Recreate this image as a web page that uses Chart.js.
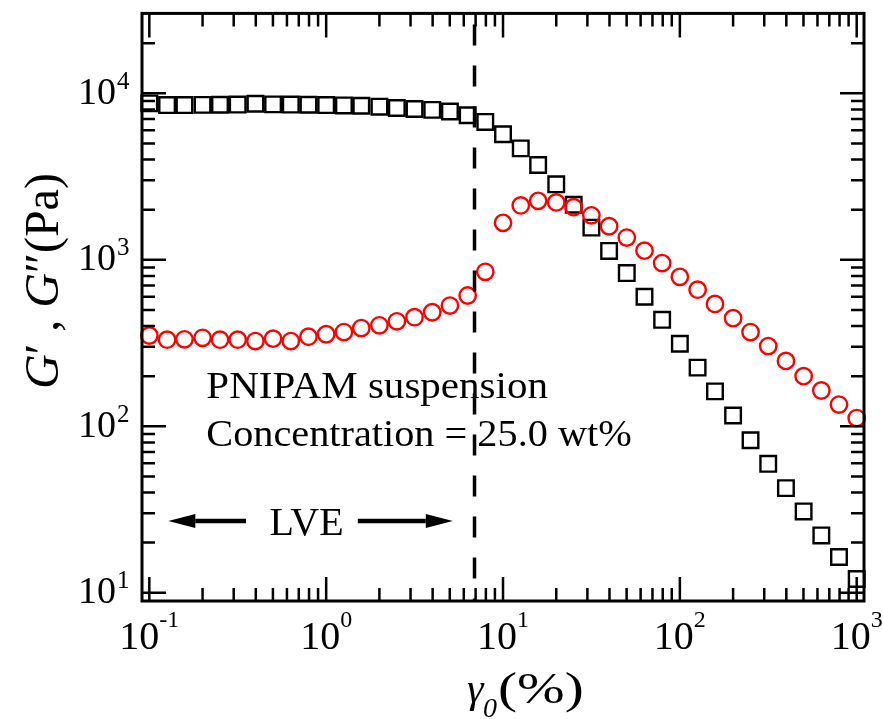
<!DOCTYPE html>
<html>
<head>
<meta charset="utf-8">
<title>PNIPAM strain sweep</title>
<script src="https://cdn.jsdelivr.net/npm/chart.js@4.4.1/dist/chart.umd.min.js"></script>
<style>
  html, body { margin: 0; padding: 0; background: #fff; }
  #wrap { width: 883px; height: 719px; position: relative; }
</style>
</head>
<body>
<div id="wrap"><canvas id="sweepChart"></canvas></div>
<script>
// Strain amplitude sweep, gamma0 in %
const strain = [
    0.1, 0.126, 0.158, 0.2, 0.251, 0.316, 0.398, 0.501, 0.631, 0.794,
    1, 1.26, 1.58, 2, 2.51, 3.16, 3.98, 5.01, 6.31, 7.94,
    10, 12.6, 15.8, 20, 25.1, 31.6, 39.8, 50.1, 63.1, 79.4,
    100, 126, 158, 200, 251, 316, 398, 501, 631, 794,
    1000
];

// Storage modulus G' (Pa)
const storageModulus = [
    8700, 8500, 8500, 8520, 8540, 8560, 8650, 8580, 8560, 8540,
    8500, 8460, 8420, 8310, 8160, 8050, 7950, 7780, 7380, 6730,
    5680, 4670, 3710, 2840, 2140, 1560, 1130, 832, 600, 436,
    313, 225, 162, 116, 82.4, 59.5, 42.5, 30.8, 22.1, 16.4,
    12.1
];

// Loss modulus G'' (Pa)
const lossModulus = [
    351, 331, 333, 340, 331, 331, 325, 336, 325, 345,
    357, 368, 389, 404, 427, 452, 484, 531, 610, 847,
    1667, 2120, 2260, 2210, 2070, 1850, 1590, 1360, 1135, 955,
    790, 661, 543, 446, 368, 303, 247, 200, 164, 135,
    112
];

// End of the linear viscoelastic region
const lveLimit = 6.9;

// Tick labels, drawn as 10 with the power as superscript
const xTicks = [0.1, 1, 10, 100, 1000];
const xTickPowers = ['-1', '0', '1', '2', '3'];
const yTicks = [10, 100, 1000, 10000];
const yTickPowers = ['1', '2', '3', '4'];

const SERIF = '"Liberation Serif", "Times New Roman", Times, serif';

function setFont(ctx, size, italic) {
    ctx.font = (italic ? 'italic ' : '') + size + 'px ' + SERIF;
}

function textWidth(ctx, str, size, italic) {
    setFont(ctx, size, italic);
    return ctx.measureText(str).width;
}

function putText(ctx, str, x, y, size, opt = {}) {
    ctx.save();
    ctx.translate(x, y);
    if (opt.rotate) ctx.rotate(opt.rotate);
    ctx.scale(opt.sx || 1, opt.sy || 1);
    setFont(ctx, size, opt.italic);
    ctx.textAlign = opt.align || 'left';
    ctx.textBaseline = 'alphabetic';
    ctx.fillStyle = '#000';
    ctx.fillText(str, 0, 0);
    ctx.restore();
}

// 1..9 x 10^k positions inside [min, max]
function logTicks(min, max) {
    const out = [];
    for (let k = Math.floor(Math.log10(min)); k <= Math.ceil(Math.log10(max)); k++) {
        for (let m = 1; m <= 9; m++) {
            const v = m * Math.pow(10, k);
            if (v > min * 1.01 && v < max / 1.01) out.push({ v, major: m === 1 });
        }
    }
    return out;
}

function arrow(ctx, x0, x1, y, head) {
    const dir = Math.sign(x1 - x0);
    const base = x1 - dir * head;
    ctx.beginPath();
    ctx.lineWidth = 4.5;
    ctx.moveTo(x0, y);
    ctx.lineTo(base, y);
    ctx.stroke();
    ctx.beginPath();
    ctx.moveTo(x1, y);
    ctx.lineTo(base, y - 7);
    ctx.lineTo(base, y + 7);
    ctx.closePath();
    ctx.fill();
}

// Boxed frame with inward ticks, tick labels, axis titles and notes
const framePlugin = {
    id: 'frame',
    afterDatasetsDraw(chart) {
        const { ctx, chartArea: a, scales: { x, y } } = chart;
        ctx.save();
        ctx.strokeStyle = '#000';
        ctx.fillStyle = '#000';

        ctx.lineWidth = 2.5;
        ctx.beginPath();
        logTicks(x.min, x.max).forEach(t => {
            const px = x.getPixelForValue(t.v);
            const len = t.major ? 24 : 13;
            ctx.moveTo(px, a.bottom); ctx.lineTo(px, a.bottom - len);
            ctx.moveTo(px, a.top); ctx.lineTo(px, a.top + len);
        });
        logTicks(y.min, y.max).forEach(t => {
            const py = y.getPixelForValue(t.v);
            const len = t.major ? 24 : 13;
            ctx.moveTo(a.left, py); ctx.lineTo(a.left + len, py);
            ctx.moveTo(a.right, py); ctx.lineTo(a.right - len, py);
        });
        ctx.stroke();

        ctx.lineWidth = 3;
        ctx.strokeRect(a.left, a.top, a.right - a.left, a.bottom - a.top);

        // x tick labels
        xTicks.forEach((v, i) => {
            const px = x.getPixelForValue(v);
            const w1 = textWidth(ctx, '10', 40);
            const w2 = textWidth(ctx, xTickPowers[i], 24);
            const x0 = px - (w1 + w2) / 2;
            putText(ctx, '10', x0, a.bottom + 47.5, 40);
            putText(ctx, xTickPowers[i], x0 + w1, a.bottom + 26, 24);
        });

        // y tick labels
        yTicks.forEach((v, i) => {
            const py = y.getPixelForValue(v);
            putText(ctx, '10', a.left - 26, py + 10.5, 38, { align: 'right' });
            putText(ctx, yTickPowers[i], a.left - 25, py - 4.5, 25);
        });

        // x title: gamma_0 (%)
        putText(ctx, 'γ', 467, 702, 42, { italic: true });
        putText(ctx, '0', 483, 717, 28, { italic: true });
        putText(ctx, '(%)', 498, 703, 44, { sx: 1.3 });

        // y title: G', G''(Pa), reading upward
        const parts = [
            ['G', true], ['′', false], [' , ', false],
            ['G', true], ['″', false], ['(Pa)', false]
        ];
        const ys = 48;
        const total = parts.reduce((s, p) => s + textWidth(ctx, p[0], ys, p[1]), 0);
        ctx.save();
        ctx.translate(58, 281);
        ctx.rotate(-Math.PI / 2);
        let cx = -total / 2;
        parts.forEach(p => {
            putText(ctx, p[0], cx, 0, ys, { italic: p[1] });
            cx += textWidth(ctx, p[0], ys, p[1]);
        });
        ctx.restore();

        // sample description
        putText(ctx, 'PNIPAM suspension', x.getPixelForValue(0.21), y.getPixelForValue(147), 38, { sx: 1.08 });
        putText(ctx, 'Concentration = 25.0 wt%', x.getPixelForValue(0.21), y.getPixelForValue(76), 38, { sx: 1.06 });

        // LVE range marker
        const ay = y.getPixelForValue(27);
        arrow(ctx, x.getPixelForValue(0.352), x.getPixelForValue(0.128), ay, 27);
        arrow(ctx, x.getPixelForValue(1.51), x.getPixelForValue(5.2), ay, 27);
        putText(ctx, 'LVE', x.getPixelForValue(0.775), y.getPixelForValue(22.1), 40, { align: 'center' });

        ctx.restore();
    }
};

const ctx = document.getElementById('sweepChart').getContext('2d');
new Chart(ctx, {
    type: 'scatter',
    data: {
        datasets: [
            {
                label: 'LVE limit',
                type: 'line',
                data: [{ x: lveLimit, y: 25900 }, { x: lveLimit, y: 8.92 }],
                borderColor: '#000',
                borderWidth: 3.5,
                borderDash: [21, 20],
                pointRadius: 0,
                order: 0,
                clip: false
            },
            {
                label: "G''",
                data: strain.map((s, i) => ({ x: s, y: lossModulus[i] })),
                pointStyle: 'circle',
                pointRadius: 8.2,
                borderWidth: 2.4,
                borderColor: '#ff0000',
                backgroundColor: 'rgba(0,0,0,0)',
                order: 1,
                clip: false
            },
            {
                label: "G'",
                data: strain.map((s, i) => ({ x: s, y: storageModulus[i] })),
                pointStyle: 'rect',
                pointRadius: 11,
                borderWidth: 2.4,
                borderColor: '#000',
                backgroundColor: 'rgba(0,0,0,0)',
                order: 2,
                clip: false
            }
        ]
    },
    options: {
        responsive: true,
        maintainAspectRatio: false,
        animation: false,
        layout: { padding: { left: 142, top: 9, right: 19, bottom: 118 } },
        plugins: { legend: { display: false }, tooltip: { enabled: false } },
        scales: {
            x: { type: 'logarithmic', min: 0.0909, max: 1099.7, display: false },
            y: { type: 'logarithmic', min: 8.92, max: 30200, display: false }
        }
    },
    plugins: [framePlugin]
});
</script>
</body>
</html>
